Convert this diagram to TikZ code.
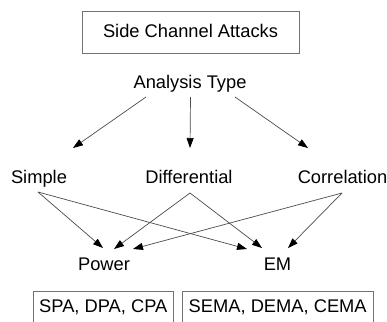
\documentclass[tikz,border=0pt]{standalone}
\usepackage{fontspec}
\setmainfont{Liberation Sans}
\usetikzlibrary{arrows.meta}
\begin{document}
\begin{tikzpicture}[x=1pt,y=-1pt,
  lbl/.style={inner sep=0pt,anchor=base,font=\fontsize{18.3}{22}\selectfont,text=black},
  boxed/.style={lbl,draw=black!55,line width=0.8pt},
  arr/.style={draw=black!70,line width=0.7pt,-{Triangle[length=10pt,width=7pt,fill=black,color=black]}}]
\path[use as bounding box,clip] (0,0) rectangle (387,321);
\fill[white] (0,0) rectangle (387,321);
\node[boxed,text height=26.7pt,text depth=15.3pt,minimum width=217pt] (sca) at (190.5,37.7) {Side Channel Attacks};
\node[lbl] (at) at (190,88) {Analysis Type};
\node[lbl] (simple) at (39,183) {Simple};
\node[lbl] (diff) at (189,183) {Differential};
\node[lbl] (corr) at (342.5,183) {Correlation};
\node[lbl] (power) at (104,270) {Power};
\node[lbl] (em) at (277.5,270) {EM};
\node[boxed,text height=20.3pt,text depth=18pt,minimum width=140pt] (pwr) at (103.3,312) {SPA, DPA, CPA};
\node[boxed,text height=20.3pt,text depth=18pt,minimum width=191.3pt] (ema) at (277.7,312) {SEMA, DEMA, CEMA};
\draw[arr] ([shift={(-44,9)}]at.base) -- ([shift={(34,-35)}]simple.base);
\draw[arr] ([shift={(0.5,9)}]at.base) -- ([shift={(1,-35)}]diff.base);
\draw[arr] ([shift={(45,9)}]at.base) -- ([shift={(-34.5,-35)}]corr.base);
\draw[arr] ([shift={(-1,9)}]simple.base) -- ([shift={(-1,-22)}]power.base);
\draw[arr] ([shift={(-1,9)}]simple.base) -- ([shift={(-30.5,-21)}]em.base);
\draw[arr] ([shift={(1,10)}]diff.base) -- ([shift={(10,-21)}]power.base);
\draw[arr] ([shift={(1,10)}]diff.base) -- ([shift={(-15.5,-22)}]em.base);
\draw[arr] ([shift={(-0.5,10)}]corr.base) -- ([shift={(29,-21)}]power.base);
\draw[arr] ([shift={(-0.5,10)}]corr.base) -- ([shift={(10.5,-22)}]em.base);
\end{tikzpicture}
\end{document}
